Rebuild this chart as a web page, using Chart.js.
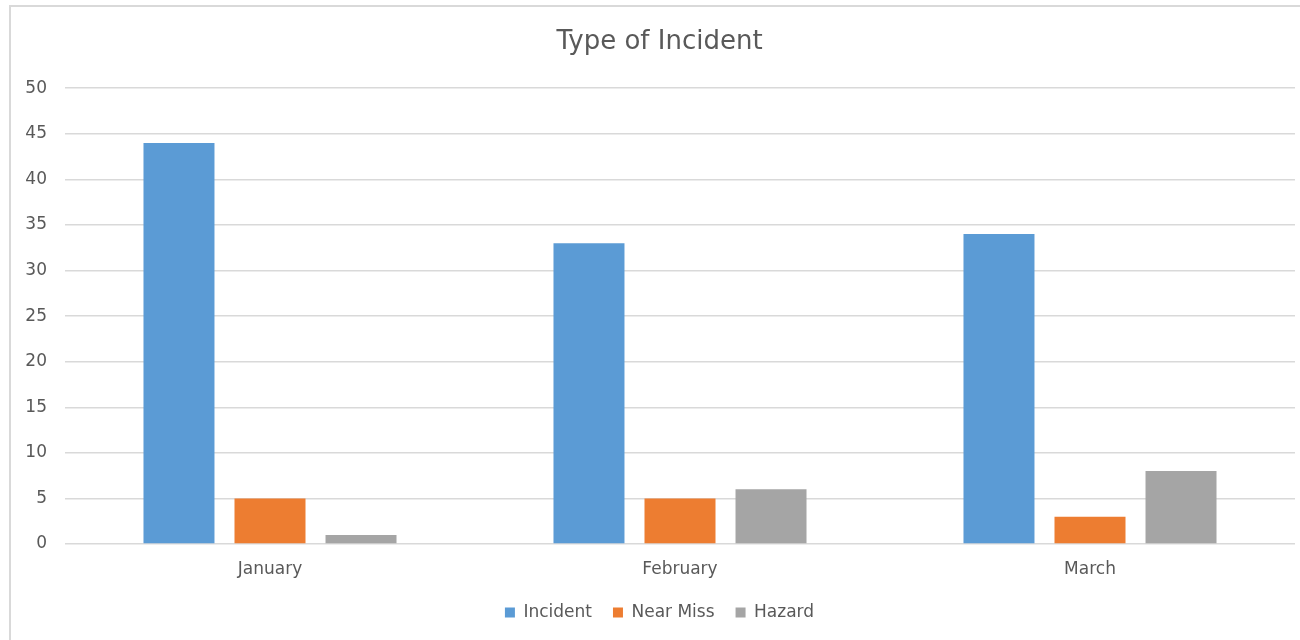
<!DOCTYPE html>
<html>
<head>
<meta charset="utf-8">
<title>Type of Incident</title>
<script src="https://cdn.jsdelivr.net/npm/chart.js@4"></script>
<style>
  html, body { margin: 0; padding: 0; background: #fff; overflow: hidden; }
  #wrap { position: relative; width: 1300px; height: 640px; }
  #marco { position: absolute; left: 9px; top: 5px; width: 1400px; height: 800px;
           border: 2px solid #d9d9d9; pointer-events: none; }
  canvas { position: absolute; left: 0; top: 0; }
</style>
</head>
<body>
<div id="wrap">
  <canvas id="graficoincidentes" width="1300" height="640"></canvas>
  <div id="marco"></div>
</div>
<script>
// datos
const meses = ["January", "February", "March"];
const incidentes = [44, 33, 34];
const casiAccidentes = [5, 5, 3];
const peligros = [1, 6, 8];
const ticksEje = [0, 5, 10, 15, 20, 25, 30, 35, 40, 45, 50];

const colorTexto = "#595959";
const fuente = "'DejaVu Sans', 'Liberation Sans', Arial, sans-serif";

function graficoincidentes() {
  const ctx = document.getElementById("graficoincidentes").getContext("2d");

  new Chart(ctx, {
    type: "bar",
    data: {
      labels: meses,
      datasets: [
        { label: "Incident", data: incidentes, backgroundColor: "#5B9BD5" },
        { label: "Near Miss", data: casiAccidentes, backgroundColor: "#ED7D31" },
        { label: "Hazard", data: peligros, backgroundColor: "#A5A5A5" },
      ],
    },
    options: {
      responsive: false,
      animation: false,
      categoryPercentage: 0.666,
      barPercentage: 0.78,
      layout: { padding: { top: 10, left: 24, right: 5, bottom: 9 } },
      plugins: {
        tooltip: { enabled: false },
        title: {
          display: true,
          text: "Type of Incident",
          color: colorTexto,
          font: { family: fuente, size: 26, weight: "normal" },
          padding: { top: 17, bottom: 30 },
        },
        legend: {
          position: "bottom",
          labels: {
            color: colorTexto,
            font: { family: fuente, size: 17 },
            boxWidth: 10,
            boxHeight: 10,
            padding: 21,
          },
        },
      },
      scales: {
        x: {
          afterFit: (scale) => {
            scale.height = 39;
          },
          grid: { display: false, drawTicks: false },
          border: { display: false },
          ticks: {
            color: colorTexto,
            font: { family: fuente, size: 17 },
            padding: 15,
          },
        },
        y: {
          min: ticksEje[0],
          max: ticksEje[ticksEje.length - 1],
          afterFit: (scale) => {
            scale.width = 41;
          },
          afterBuildTicks: (scale) => {
            scale.ticks = ticksEje.map((v) => ({ value: v }));
          },
          grid: { color: "#D9D9D9", lineWidth: 1.5, drawTicks: false },
          border: { display: false },
          ticks: {
            color: colorTexto,
            font: { family: fuente, size: 17 },
            padding: 18,
          },
        },
      },
    },
  });
}

graficoincidentes();
</script>
</body>
</html>
